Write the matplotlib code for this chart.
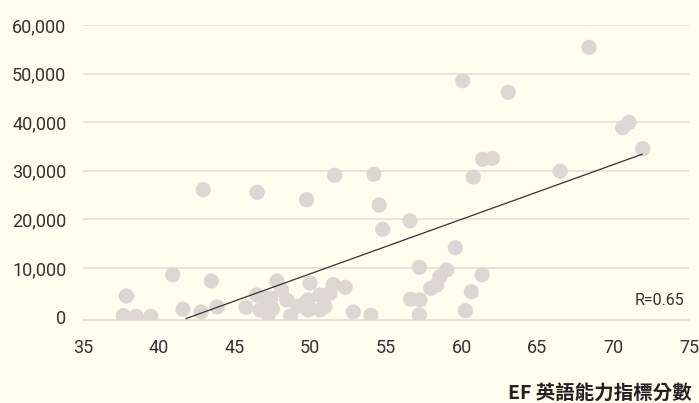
import matplotlib
matplotlib.use("Agg")
import matplotlib.pyplot as plt

# EF English proficiency index score (x) vs value (y)
ef_score = [37.66, 37.86, 38.5, 39.47, 40.92, 41.6, 42.79, 42.94, 43.47, 43.85,
            45.76, 46.46, 46.5, 46.68, 47.23, 47.39, 47.8, 48.1, 48.45, 48.7,
            49.2, 49.76, 49.87, 49.98, 49.87, 50.64, 50.64, 50.97, 51.3, 51.52,
            51.61, 52.3, 52.84, 54.0, 54.2, 54.55, 54.78, 56.58, 56.63, 57.2,
            57.24, 57.2, 57.95, 58.34, 58.56, 59.0, 59.57, 60.06, 60.24, 60.63,
            60.76, 61.34, 61.38, 62.02, 63.07, 66.49, 68.4, 70.62, 71.04, 71.94,
            47.1, 47.5, 49.75]
values = [200, 4240, 50, 50, 8620, 1500, 950, 26110, 7320, 1980,
          1910, 4440, 25570, 1360, 330, 3770, 7300, 5500, 3420, 100,
          2180, 24050, 3420, 6900, 1360, 4440, 1360, 2100, 4800, 6600,
          29070, 6030, 950, 270, 29280, 22960, 17960, 19730, 3560, 10140,
          3420, 330, 5820, 6500, 8210, 9590, 14180, 48540, 1210, 5120,
          28720, 8620, 32370, 32580, 46150, 29900, 55410, 38870, 39970, 34550,
          3700, 1600, 3000]

trend_x = [41.8, 71.9]
trend_y = [-400, 33400]

x_ticks = [35, 40, 45, 50, 55, 60, 65, 70, 75]
y_ticks = [0, 10000, 20000, 30000, 40000, 50000, 60000]
y_tick_labels = ["0", "10,000", "20,000", "30,000", "40,000", "50,000", "60,000"]
x_label = "EF 英語能力指標分數"
r_text = "R=0.65"

bg = "#FFFDEE"
dot = "#DDD6D2"
grid = "#E4DEDA"
txt = "#333333"

plt.rcParams['font.family'] = ['Roboto', 'DejaVu Sans']

fig = plt.figure(figsize=(6.99, 4.03), dpi=100, facecolor=bg)
ax = fig.add_axes([83/699, 1-320/403, 606/699, 295/403])
ax.set_facecolor(bg)

ax.scatter(ef_score, values, s=120, color=dot, edgecolors='none', zorder=3)
ax.plot(trend_x, trend_y, color="#333333", lw=0.9, zorder=4)

ax.set_xlim(35, 75)
ax.set_ylim(-700, 60000)
ax.set_xticks(x_ticks)
ax.set_yticks(y_ticks)
ax.set_yticklabels(y_tick_labels)
ax.tick_params(axis='both', length=0, labelsize=13, colors=txt)
ax.tick_params(axis='y', pad=12)
ax.tick_params(axis='x', pad=14)

ax.yaxis.grid(True, color=grid, lw=1.2, zorder=0)
ax.get_ygridlines()[0].set_visible(False)
for s in ['top', 'right', 'left']:
    ax.spines[s].set_visible(False)
ax.spines['bottom'].set_color(grid)
ax.spines['bottom'].set_linewidth(1.2)

ax.text(0.993, 0.066, r_text, transform=ax.transAxes, ha='right', va='center',
        fontsize=11.5, color=txt)

fig.text(692/699, 1-393/403, x_label, ha='right', va='center', fontsize=14,
         fontweight='bold', color="#222222",
         family=['Noto Sans CJK TC', 'DejaVu Sans'])

fig.savefig("out.png", dpi=100, facecolor=bg)
